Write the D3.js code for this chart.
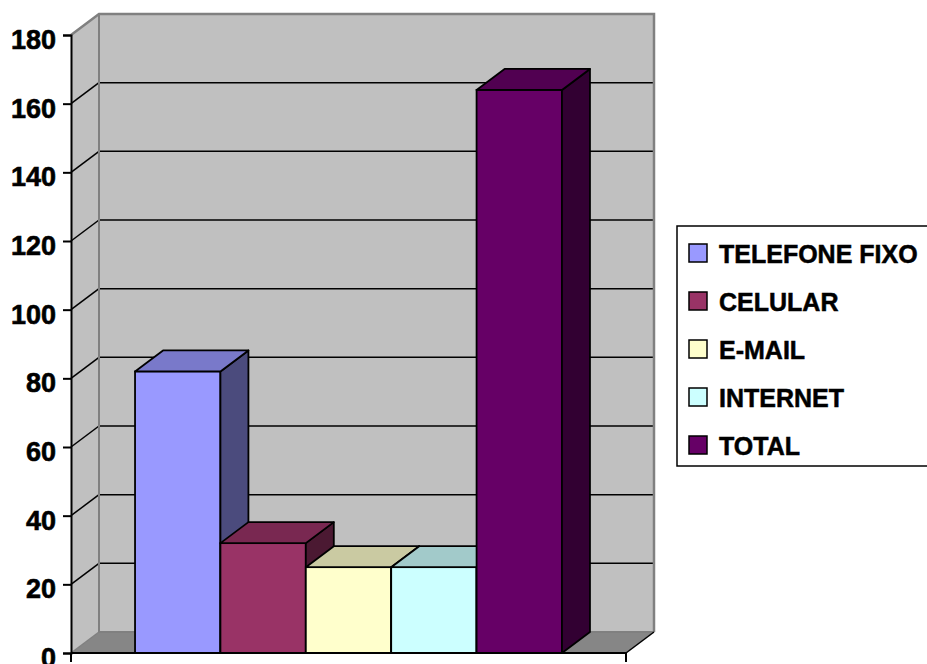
<!DOCTYPE html>
<html>
<head>
<meta charset="utf-8">
<script src="https://cdn.jsdelivr.net/npm/d3@7"></script>
<style>
  body { margin: 0; background: #fff; }
  text { font-family: "Liberation Sans", Arial, sans-serif; font-weight: bold; }
</style>
</head>
<body>
<svg width="927" height="664"></svg>
<script>
// chart data
var series = ["TELEFONE FIXO", "CELULAR", "E-MAIL", "INTERNET", "TOTAL"];
var values = [82, 32, 25, 25, 164];
var colors = ["#9999FF", "#993366", "#FFFFCC", "#CCFFFF", "#660066"];
var yTicks = [0, 20, 40, 60, 80, 100, 120, 140, 160, 180];

var svg = d3.select("svg");

// plot geometry
var plotLeft = 71, plotRight = 626, plotBottom = 653, plotTop = 35;
var dx = 28, dy = -21;

var yScale = d3.scaleLinear().domain([0, 180]).range([plotBottom, plotTop]);
var xScale = d3.scaleBand().domain(series).range([plotLeft, plotRight])
  .paddingInner(0).paddingOuter(0.75);

var pts = function(a) { return a.map(p => p.join(",")).join(" "); };

// side wall
svg.append("polygon")
  .attr("points", pts([[plotLeft, plotBottom], [plotLeft + dx, plotBottom + dy], [plotLeft + dx, plotTop + dy], [plotLeft, plotTop]]))
  .attr("fill", "#c0c0c0");

// back wall
svg.append("rect")
  .attr("x", plotLeft + dx).attr("y", plotTop + dy)
  .attr("width", plotRight - plotLeft).attr("height", plotBottom - plotTop)
  .attr("fill", "#c0c0c0");

// floor
svg.append("polygon")
  .attr("points", pts([[plotLeft, plotBottom], [plotRight, plotBottom], [plotRight + dx, plotBottom + dy], [plotLeft + dx, plotBottom + dy]]))
  .attr("fill", "#868686");

// gridlines: side wall diagonals + back wall lines
var inner = yTicks.filter(d => d > 0 && d < 180);
var grid = svg.append("g");
grid.selectAll(".gside").data(inner).enter()
  .append("line")
  .attr("x1", plotLeft).attr("y1", d => yScale(d))
  .attr("x2", plotLeft + dx).attr("y2", d => yScale(d) + dy)
  .attr("stroke", "#000").attr("stroke-width", 1.5);
grid.selectAll(".gback").data(inner).enter()
  .append("line")
  .attr("x1", plotLeft + dx).attr("y1", d => yScale(d) + dy)
  .attr("x2", plotRight + dx).attr("y2", d => yScale(d) + dy)
  .attr("stroke", "#000").attr("stroke-width", 1.5);

// wall edges (grey)
svg.append("polyline")
  .attr("points", pts([[plotLeft, plotTop], [plotLeft + dx, plotTop + dy], [plotRight + dx, plotTop + dy], [plotRight + dx, plotBottom + dy]]))
  .attr("fill", "none").attr("stroke", "#808080").attr("stroke-width", 2.5);
svg.append("polyline")
  .attr("points", pts([[plotLeft + dx, plotTop + dy], [plotLeft + dx, plotBottom + dy], [plotRight + dx, plotBottom + dy]]))
  .attr("fill", "none").attr("stroke", "#808080").attr("stroke-width", 2);
svg.append("line")
  .attr("x1", plotLeft).attr("y1", plotBottom).attr("x2", plotLeft + dx).attr("y2", plotBottom + dy)
  .attr("stroke", "#808080").attr("stroke-width", 1.5);
svg.append("line")
  .attr("x1", plotRight).attr("y1", plotBottom).attr("x2", plotRight + dx).attr("y2", plotBottom + dy)
  .attr("stroke", "#000").attr("stroke-width", 1.5);

// bars
var data = series.map((s, i) => ({ name: s, value: values[i], color: colors[i] }));
var bars = svg.append("g").selectAll("g").data(data).enter().append("g");

bars.each(function(d) {
  var g = d3.select(this);
  var x0 = xScale(d.name), x1 = x0 + xScale.bandwidth();
  var y0 = plotBottom, y1 = yScale(d.value);
  var c = d3.color(d.color);
  // front
  g.append("rect")
    .attr("x", x0).attr("y", y1).attr("width", x1 - x0).attr("height", y0 - y1)
    .attr("fill", d.color).attr("stroke", "#000").attr("stroke-width", 1.8);
  // side
  g.append("polygon")
    .attr("points", pts([[x1, y0], [x1 + dx, y0 + dy], [x1 + dx, y1 + dy], [x1, y1]]))
    .attr("fill", c.darker(2.0)).attr("stroke", "#000").attr("stroke-width", 1.8)
    .attr("stroke-linejoin", "round");
  // top
  g.append("polygon")
    .attr("points", pts([[x0, y1], [x0 + dx, y1 + dy], [x1 + dx, y1 + dy], [x1, y1]]))
    .attr("fill", c.darker(0.65)).attr("stroke", "#000").attr("stroke-width", 1.8)
    .attr("stroke-linejoin", "round");
});

// y axis
var yAxis = d3.axisLeft(yScale).tickValues(yTicks).tickSize(8).tickPadding(7);
var ya = svg.append("g").attr("transform", "translate(" + plotLeft + ",0)").call(yAxis);
ya.select(".domain").attr("stroke", "#000").attr("stroke-width", 2);
ya.selectAll(".tick line").attr("stroke", "#000").attr("stroke-width", 2);
ya.selectAll(".tick text")
  .attr("font-size", 27).attr("font-family", "Liberation Sans, Arial, sans-serif")
  .attr("font-weight", "bold").attr("fill", "#000")
  .attr("stroke", "#000").attr("stroke-width", 0.6)
  .attr("dy", "0.5em");

// x axis line (front floor edge)
svg.append("line")
  .attr("x1", plotLeft).attr("y1", plotBottom).attr("x2", plotRight).attr("y2", plotBottom)
  .attr("stroke", "#000").attr("stroke-width", 2);
svg.append("line")
  .attr("x1", plotRight).attr("y1", plotBottom).attr("x2", plotRight).attr("y2", plotBottom + 9)
  .attr("stroke", "#000").attr("stroke-width", 2);
svg.append("line")
  .attr("x1", plotLeft).attr("y1", plotBottom).attr("x2", plotLeft).attr("y2", plotBottom + 9)
  .attr("stroke", "#000").attr("stroke-width", 2);

// legend
var legend = svg.append("g").attr("transform", "translate(677,226)");
legend.append("rect")
  .attr("x", 0).attr("y", 0).attr("width", 270).attr("height", 240)
  .attr("fill", "#fff").attr("stroke", "#000").attr("stroke-width", 1.5);
var item = legend.selectAll(".item").data(data).enter().append("g")
  .attr("transform", (d, i) => "translate(0," + (27 + i * 48) + ")");
item.append("rect")
  .attr("x", 12).attr("y", -9).attr("width", 18).attr("height", 18)
  .attr("fill", d => d.color).attr("stroke", "#000").attr("stroke-width", 1.5);
item.append("text")
  .attr("x", 42).attr("y", 9.5)
  .attr("font-size", 25).attr("fill", "#000")
  .attr("stroke", "#000").attr("stroke-width", 0.5)
  .text(d => d.name);
</script>
</body>
</html>
